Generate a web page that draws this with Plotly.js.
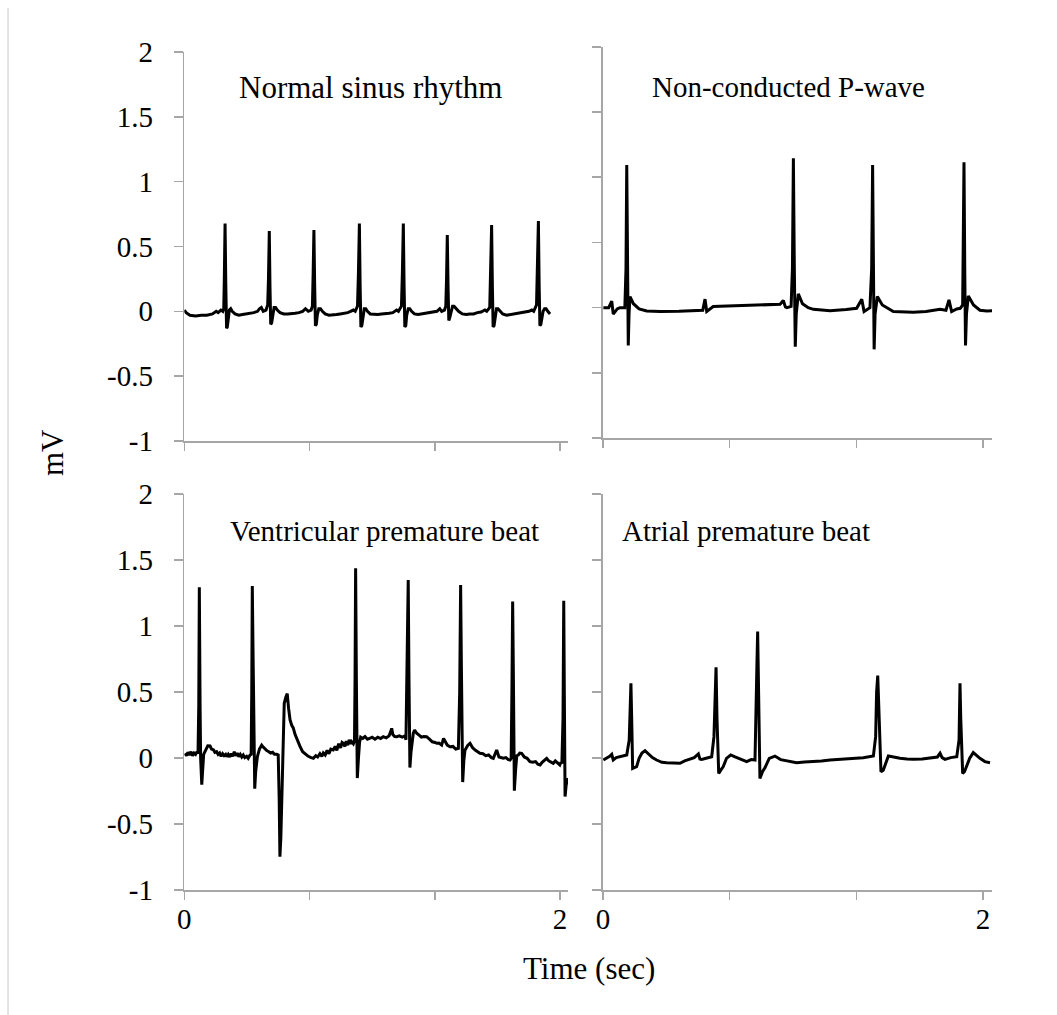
<!DOCTYPE html>
<html>
<head>
<meta charset="utf-8">
<script src="https://cdn.plot.ly/plotly-3.0.1.min.js"></script>
<style>html,body{margin:0;padding:0;background:#fff;}#chart{width:1057px;height:1015px;}</style>
</head>
<body>
<div id="chart"></div>
<script>
// ---------- DATA ----------
const panelTitles = ["Normal sinus rhythm", "Non-conducted P-wave", "Ventricular premature beat", "Atrial premature beat"];
const yTickVals = [-1, -0.5, 0, 0.5, 1, 1.5, 2];
const yTickText = ["-1", "-0.5", "0", "0.5", "1", "1.5", "2"];
const xTickVals = [0, 0.6667, 1.3333, 2];
const xTickText = ["0", "", "", "2"];

// Normal sinus rhythm (top-left)
const nsrT = [
 0.000,0.010,0.030,0.060,0.090,0.120,0.150,0.170,0.180,0.195,0.205,
 0.210,0.213,0.217,0.221,0.225,0.229,0.234,0.240,0.247,0.255,0.270,0.290,0.310,0.330,0.350,0.370,0.390,0.400,0.410,0.420,0.435,0.444,
 0.448,0.4525,0.456,0.460,0.465,0.470,0.478,0.486,0.495,0.510,0.530,0.550,0.570,0.590,0.610,0.630,0.645,0.660,0.675,0.682,
 0.686,0.690,0.694,0.698,0.703,0.708,0.716,0.725,0.735,0.750,0.770,0.790,0.810,0.830,0.850,0.870,0.885,0.900,0.910,0.922,
 0.927,0.932,0.936,0.940,0.945,0.950,0.958,0.966,0.975,0.990,1.010,1.030,1.050,1.070,1.090,1.110,1.130,1.140,1.156,
 1.161,1.166,1.170,1.174,1.179,1.184,1.192,1.200,1.210,1.225,1.245,1.265,1.285,1.305,1.325,1.345,1.360,1.370,1.385,1.392,
 1.396,1.400,1.404,1.408,1.413,1.420,1.428,1.436,1.446,1.460,1.480,1.500,1.520,1.540,1.560,1.580,1.600,1.610,1.626,
 1.631,1.636,1.640,1.644,1.649,1.654,1.662,1.670,1.680,1.695,1.715,1.735,1.755,1.775,1.795,1.815,1.835,1.850,1.860,1.875,
 1.880,1.885,1.889,1.893,1.898,1.903,1.910,1.918,1.926,1.935,1.947
];
const nsrV = [
 0.01,-0.01,-0.03,-0.035,-0.03,-0.03,-0.02,0.0,-0.01,0.01,0.0,
 0.02,0.25,0.678,0.2,-0.13,-0.12,-0.05,0.01,0.02,0.0,-0.02,-0.03,-0.025,-0.02,-0.02,-0.01,0.0,0.02,0.03,0.0,0.01,0.05,
 0.25,0.619,0.2,-0.10,-0.09,-0.03,0.03,0.03,0.01,-0.01,-0.02,-0.02,-0.02,-0.015,-0.01,0.0,0.02,0.0,0.01,0.04,
 0.3,0.627,0.2,-0.11,-0.10,-0.03,0.02,0.02,0.0,-0.02,-0.03,-0.03,-0.025,-0.02,-0.015,-0.01,0.0,0.01,0.0,0.04,
 0.3,0.678,0.2,-0.12,-0.11,-0.04,0.02,0.02,0.0,-0.02,-0.025,-0.025,-0.02,-0.02,-0.015,-0.01,0.01,0.0,0.04,
 0.3,0.678,0.2,-0.12,-0.11,-0.03,0.02,0.02,0.0,-0.02,-0.025,-0.02,-0.02,-0.01,-0.01,0.0,0.02,0.0,0.01,0.04,
 0.25,0.588,0.2,-0.07,-0.05,0.0,0.04,0.04,0.02,0.0,-0.02,-0.025,-0.02,-0.02,-0.01,-0.005,0.01,0.0,0.03,
 0.3,0.665,0.2,-0.12,-0.11,-0.04,0.02,0.02,0.0,-0.02,-0.03,-0.025,-0.02,-0.02,-0.015,-0.01,0.0,0.01,0.0,0.05,
 0.35,0.696,0.2,-0.11,-0.10,-0.04,0.0,0.02,0.02,0.0,-0.02
];

// Non-conducted P-wave (top-right)
const npwT = [
 0.002,0.030,0.046,0.054,0.075,0.089,0.115,
 0.121,0.125,0.129,0.133,0.137,0.142,0.160,0.190,0.230,0.300,0.400,0.480,0.525,0.537,0.546,0.580,0.650,0.756,0.850,0.932,0.949,0.960,0.968,0.990,
 0.997,1.002,1.007,1.012,1.017,1.028,1.050,1.080,1.107,1.195,1.280,1.335,1.362,1.374,1.405,
 1.414,1.419,1.423,1.427,1.432,1.444,1.470,1.528,1.633,1.700,1.774,1.805,1.821,1.835,1.862,1.880,1.893,
 1.896,1.900,1.904,1.908,1.913,1.923,1.950,1.984,2.020,2.054
];
const npwV = [
 0.0,0.0,0.05,-0.05,-0.01,0.0,0.0,
 0.3,1.094,0.3,-0.29,-0.05,0.085,0.03,-0.01,-0.025,-0.03,-0.028,-0.025,-0.02,0.065,-0.03,0.008,0.012,0.017,0.02,0.026,0.055,0.005,0.0,0.01,
 0.3,1.146,0.3,-0.30,-0.05,0.105,0.03,0.0,-0.013,-0.023,-0.015,-0.005,0.065,-0.03,0.0,
 0.3,1.094,0.3,-0.32,-0.05,0.085,0.02,-0.03,-0.036,-0.03,-0.013,-0.02,0.06,-0.03,-0.01,-0.005,0.02,
 0.35,1.115,0.3,-0.29,-0.05,0.09,0.02,-0.02,-0.025,-0.023
];

// Ventricular premature beat (bottom-left)
const vpbT = [
 0.004,0.012,0.020,0.028,0.036,0.044,0.052,0.060,0.068,0.073,
 0.077,0.080,0.084,0.087,0.093,0.098,0.103,0.110,0.118,0.125,0.137,0.145,0.155,0.163,0.172,0.180,0.188,0.196,0.204,0.212,0.220,0.226,0.234,0.242,0.250,0.258,0.266,0.274,0.282,0.290,0.298,0.306,0.314,0.322,0.332,0.340,0.350,0.356,
 0.359,0.362,0.366,0.370,0.375,0.380,0.389,0.400,0.412,0.420,0.430,0.439,0.450,0.460,0.470,0.480,0.492,0.500,
 0.505,0.509,0.514,0.521,0.527,0.532,0.540,0.548,0.555,0.563,0.572,0.580,0.590,0.600,0.616,0.630,0.645,0.660,0.675,0.687,0.700,0.710,0.722,0.732,0.740,0.750,0.760,0.770,0.780,0.793,0.803,0.812,0.822,0.832,0.840,0.846,0.855,0.862,0.870,0.878,0.885,0.891,0.900,0.906,
 0.909,0.912,0.916,0.918,0.921,0.927,0.933,0.939,0.950,0.962,0.975,0.989,1.000,1.015,1.030,1.045,1.059,1.075,1.090,1.098,1.104,1.110,1.120,1.131,1.145,1.160,1.175,1.180,
 1.185,1.192,1.196,1.201,1.207,1.213,1.219,1.226,1.237,1.250,1.262,1.275,1.290,1.305,1.320,1.335,1.344,1.355,1.370,1.380,1.388,1.400,1.414,1.430,1.445,1.459,
 1.466,1.471,1.475,1.479,1.482,1.488,1.494,1.500,1.510,1.521,1.535,1.550,1.565,1.574,1.590,1.605,1.620,1.635,1.645,1.655,1.663,1.675,1.690,1.698,1.712,1.725,1.734,1.740,
 1.744,1.748,1.752,1.754,1.757,1.764,1.770,1.778,1.786,1.796,1.810,1.825,1.840,1.855,1.870,1.882,1.894,1.905,1.915,1.929,1.940,1.950,1.964,1.975,1.985,1.993,1.999,2.005,2.010,
 2.016,2.020,2.023,2.027,2.033,2.044
];
const vpbV = [
 0.038,0.02,0.045,0.025,0.05,0.02,0.04,0.03,0.05,0.035,
 0.4,1.295,0.4,0.0,-0.2,-0.05,0.03,0.05,0.08,0.095,0.093,0.07,0.065,0.045,0.05,0.03,0.04,0.015,0.035,0.02,0.03,0.012,0.03,0.01,0.035,0.015,0.05,0.02,0.04,0.012,0.03,0.01,0.025,0.005,0.015,0.0,0.025,0.03,
 0.5,1.305,0.8,0.0,-0.23,-0.1,0.012,0.07,0.1,0.085,0.07,0.058,0.05,0.04,0.045,0.03,0.03,0.025,
 -0.3,-0.745,-0.6,-0.2,0.0,0.417,0.46,0.49,0.38,0.29,0.25,0.23,0.18,0.14,0.09,0.05,0.03,0.015,0.005,0.0,0.02,0.01,0.035,0.015,0.04,0.025,0.06,0.035,0.07,0.063,0.09,0.06,0.11,0.08,0.12,0.114,0.09,0.13,0.1,0.14,0.11,0.126,0.11,0.13,
 0.6,1.44,0.6,0.1,-0.15,0.0,0.12,0.16,0.15,0.165,0.145,0.152,0.16,0.145,0.16,0.15,0.164,0.155,0.17,0.2,0.227,0.18,0.165,0.164,0.17,0.16,0.17,0.14,
 0.6,1.35,0.6,-0.07,0.05,0.15,0.19,0.214,0.19,0.175,0.16,0.165,0.164,0.145,0.125,0.12,0.114,0.115,0.1,0.15,0.13,0.1,0.088,0.09,0.07,0.076,
 0.5,1.313,0.7,0.0,-0.18,-0.02,0.06,0.076,0.1,0.114,0.08,0.06,0.05,0.038,0.035,0.02,0.025,0.005,0.0,0.03,0.063,0.01,0.0,0.0,0.005,-0.01,-0.013,0.0,
 0.5,1.187,0.6,0.0,-0.245,-0.08,0.02,0.025,0.04,0.038,0.01,0.0,-0.025,-0.03,-0.025,-0.045,-0.05,-0.03,-0.02,0.0,-0.02,-0.03,-0.038,-0.02,-0.03,-0.04,-0.05,-0.03,-0.04,
 0.3,1.194,0.5,-0.29,-0.2,-0.15
];

// Atrial premature beat (bottom-right)
const apbT = [
 0.002,0.020,0.035,0.046,0.054,0.070,0.089,0.105,0.125,
 0.138,0.143,0.147,0.151,0.156,0.165,0.177,0.190,0.205,0.221,0.240,0.260,0.282,0.310,0.335,0.370,0.405,0.430,0.458,0.480,0.502,0.510,0.519,0.545,0.572,
 0.584,0.590,0.595,0.600,0.605,0.609,0.620,0.633,0.650,0.672,0.695,0.721,0.740,0.756,0.780,0.800,
 0.806,0.810,0.814,0.818,0.822,0.826,0.840,0.853,0.875,0.905,0.935,0.967,1.019,1.060,1.107,1.150,1.195,1.240,1.283,1.330,1.370,1.400,1.423,
 1.435,1.440,1.446,1.452,1.458,1.463,1.475,1.490,1.502,1.530,1.563,1.600,1.633,1.680,1.721,1.760,1.774,1.785,1.800,1.830,1.862,
 1.874,1.877,1.879,1.883,1.888,1.893,1.903,1.914,1.930,1.949,1.965,1.984,2.010,2.037
];
const apbV = [
 -0.013,0.0,0.015,0.03,-0.013,0.005,0.012,0.015,0.025,
 0.139,0.4,0.568,0.3,-0.076,-0.07,-0.063,0.0,0.04,0.058,0.03,0.005,-0.013,-0.03,-0.033,-0.035,-0.038,-0.02,-0.008,0.005,0.033,-0.005,-0.008,0.0,0.012,
 0.164,0.5,0.689,0.3,0.0,-0.114,-0.09,-0.063,0.0,0.025,0.01,-0.008,-0.015,-0.025,-0.01,-0.013,
 0.3,0.7,0.96,0.5,0.0,-0.152,-0.1,-0.07,0.0,0.017,-0.01,-0.02,-0.033,-0.028,-0.025,-0.02,-0.013,-0.01,-0.008,0.0,0.005,0.01,0.017,
 0.164,0.5,0.626,0.3,0.0,-0.101,-0.09,-0.02,0.017,0.01,0.0,-0.005,-0.008,-0.005,0.0,0.01,0.038,0.005,-0.008,0.005,0.012,
 0.139,0.4,0.568,0.3,0.0,-0.114,-0.1,-0.063,0.0,0.043,0.02,0.0,-0.025,-0.033
];

// ---------- FIGURE ----------
const W = 1057, H = 1015;
const FONT = "Liberation Serif, Times New Roman, serif";
const AX = '#a6a6a6';
const px = v => v / W;
const py = v => 1 - v / H;

const lineStyle = {color: '#000000', width: 3};
const traces = [
  {x: nsrT, y: nsrV, xaxis: 'x', yaxis: 'y', type: 'scatter', mode: 'lines', line: lineStyle, hoverinfo: 'skip'},
  {x: npwT, y: npwV, xaxis: 'x2', yaxis: 'y2', type: 'scatter', mode: 'lines', line: lineStyle, hoverinfo: 'skip'},
  {x: vpbT, y: vpbV, xaxis: 'x3', yaxis: 'y3', type: 'scatter', mode: 'lines', line: lineStyle, hoverinfo: 'skip'},
  {x: apbT, y: apbV, xaxis: 'x4', yaxis: 'y4', type: 'scatter', mode: 'lines', line: lineStyle, hoverinfo: 'skip'}
];

function xAx(d0, d1, rmax, anchor, labels) {
  return {
    domain: [px(d0), px(d1)], range: [0, rmax], anchor: anchor,
    showgrid: false, zeroline: false, showline: true, linecolor: AX, linewidth: 1.6,
    ticks: 'outside', ticklen: 8, tickwidth: 1.6, tickcolor: AX,
    tickmode: 'array', tickvals: xTickVals, ticktext: xTickText,
    showticklabels: labels, ticklabelstandoff: -6,
    tickfont: {family: FONT, size: 29, color: '#000'}, fixedrange: true
  };
}
function yAx(top, bottom, anchor, labels) {
  return {
    domain: [py(bottom), py(top)], range: [-1, 2], anchor: anchor,
    showgrid: false, zeroline: false, showline: true, linecolor: AX, linewidth: 1.6,
    ticks: 'outside', ticklen: 9, tickwidth: 1.6, tickcolor: AX,
    tickmode: 'array', tickvals: yTickVals, ticktext: yTickText,
    showticklabels: labels, ticklabelstandoff: 15,
    tickfont: {family: FONT, size: 29, color: '#000'}, fixedrange: true
  };
}

const titleFont = {family: FONT, size: 29, color: '#000'};
const layout = {
  width: W, height: H,
  margin: {l: 0, r: 0, t: 0, b: 0},
  paper_bgcolor: '#ffffff', plot_bgcolor: '#ffffff',
  showlegend: false,
  xaxis: xAx(184.3, 568, 2.0426, 'y', false),
  yaxis: yAx(52, 441, 'x', true),
  xaxis2: xAx(603, 992, 2.0474, 'y2', false),
  yaxis2: yAx(46.9, 438, 'x2', false),
  xaxis3: xAx(184.3, 568, 2.0426, 'y3', true),
  yaxis3: yAx(494.3, 890.3, 'x3', true),
  xaxis4: xAx(603, 992, 2.0474, 'y4', true),
  yaxis4: yAx(494.3, 890.3, 'x4', false),
  annotations: [
    {text: panelTitles[0], xref: 'paper', yref: 'paper', x: px(371), y: py(87), xanchor: 'center', yanchor: 'middle', showarrow: false, font: {family: FONT, size: 31, color: '#000'}},
    {text: panelTitles[1], xref: 'paper', yref: 'paper', x: px(788), y: py(87), xanchor: 'center', yanchor: 'middle', showarrow: false, font: titleFont},
    {text: panelTitles[2], xref: 'paper', yref: 'paper', x: px(385), y: py(531), xanchor: 'center', yanchor: 'middle', showarrow: false, font: titleFont},
    {text: panelTitles[3], xref: 'paper', yref: 'paper', x: px(746), y: py(531), xanchor: 'center', yanchor: 'middle', showarrow: false, font: titleFont},
    {text: 'mV', xref: 'paper', yref: 'paper', x: px(52), y: py(453), xanchor: 'center', yanchor: 'middle', textangle: -90, showarrow: false, font: {family: FONT, size: 31, color: '#000'}},
    {text: 'Time (sec)', xref: 'paper', yref: 'paper', x: px(589), y: py(968), xanchor: 'center', yanchor: 'middle', showarrow: false, font: {family: FONT, size: 31, color: '#000'}}
  ],
  shapes: [
    {type: 'line', xref: 'paper', yref: 'paper', x0: px(8), x1: px(8), y0: 0, y1: py(8), line: {color: '#c8c8c8', width: 1}}
  ]
};

Plotly.newPlot('chart', traces, layout, {staticPlot: true, displayModeBar: false});
</script>
</body>
</html>
